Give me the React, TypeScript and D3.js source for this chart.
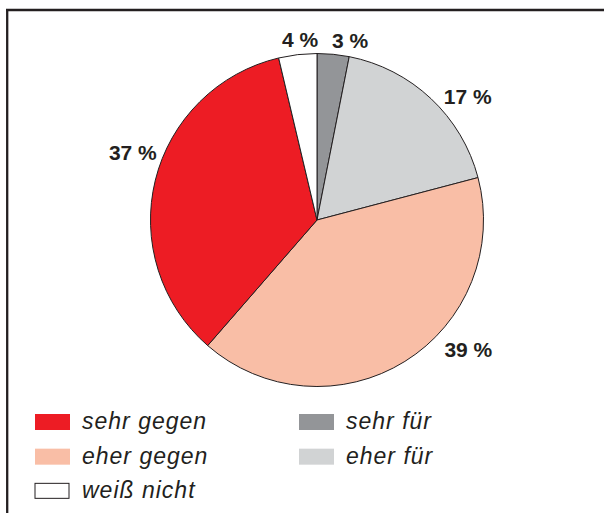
import React from 'react';
import * as d3 from 'd3';

// canvas
const width = 604;
const height = 513;

// data, clockwise from the top
const categories = ['sehr für', 'eher für', 'eher gegen', 'sehr gegen', 'weiß nicht'];
const shares = [3.1, 17.8, 40.5, 34.9, 3.7];
const shareLabels = ['3 %', '17 %', '39 %', '37 %', '4 %'];
const colors = ['#939598', '#d1d3d4', '#f9bea6', '#ed1c24', '#ffffff'];

// legend order (two columns)
const legendLeft = ['sehr gegen', 'eher gegen', 'weiß nicht'];
const legendRight = ['sehr für', 'eher für'];

// pie position
const centerX = 317;
const centerY = 220;
const radius = 166.5;

// label placement: angle in degrees from top, distance from center
const labelAngles = [10.4, 50.6, 130.5, 290, 354.6];
const labelRadii = [183, 195, 199, 196, 181];

const ink = '#231f20';

const pieGen = d3
  .pie<number>()
  .sort(null)
  .value((d) => d);

const sliceArc = d3.arc<d3.PieArcDatum<number>>().innerRadius(0).outerRadius(radius);

const toRad = (deg: number) => (deg * Math.PI) / 180;

const App = () => {
  const slices = pieGen(shares);

  const legendY = d3.scaleBand<number>().domain([0, 1, 2]).range([413, 517]).paddingInner(0);
  const swatchW = 35;
  const swatchH = 16;

  const legendItem = (name: string, i: number, x: number) => {
    const idx = categories.indexOf(name);
    const y = legendY(i) as number;
    const isWhite = colors[idx] === '#ffffff';
    return (
      <g key={name}>
        <rect
          x={x}
          y={y + 1}
          width={isWhite ? swatchW - 1 : swatchW}
          height={isWhite ? swatchH - 1 : swatchH}
          fill={colors[idx]}
          stroke={isWhite ? ink : 'none'}
          strokeWidth={1}
        />
        <text
          x={x + 47}
          y={y + 16}
          fontFamily="'Liberation Sans', Arial, sans-serif"
          fontStyle="italic"
          fontSize={23}
          letterSpacing={1}
          fill={ink}
        >
          {name}
        </text>
      </g>
    );
  };

  return (
    <svg
      width={width}
      height={height}
      style={{ position: 'absolute', left: 0, top: 0, background: '#fff' }}
    >
      {/* frame, open on the right and bottom */}
      <line x1={6} y1={10} x2={width} y2={10} stroke={ink} strokeWidth={2.3} />
      <line x1={7.2} y1={9} x2={7.2} y2={height} stroke={ink} strokeWidth={2.3} />

      <g transform={`translate(${centerX},${centerY})`}>
        {slices.map((s, i) => (
          <path key={categories[i]} d={sliceArc(s) || ''} fill={colors[i]} stroke={ink} strokeWidth={1} />
        ))}
        {shareLabels.map((label, i) => {
          const a = toRad(labelAngles[i]);
          const [lx, ly] = d3
            .arc()
            .innerRadius(labelRadii[i])
            .outerRadius(labelRadii[i])
            .startAngle(a)
            .endAngle(a)
            .centroid({} as any);
          return (
            <text
              key={label}
              x={lx}
              y={ly}
              textAnchor="middle"
              dominantBaseline="central"
              fontFamily="'Liberation Sans', Arial, sans-serif"
              fontWeight="bold"
              fontSize={21}
              fill={ink}
            >
              {label}
            </text>
          );
        })}
      </g>

      {legendLeft.map((name, i) => legendItem(name, i, 35))}
      {legendRight.map((name, i) => legendItem(name, i, 299))}
    </svg>
  );
};

export default App;
